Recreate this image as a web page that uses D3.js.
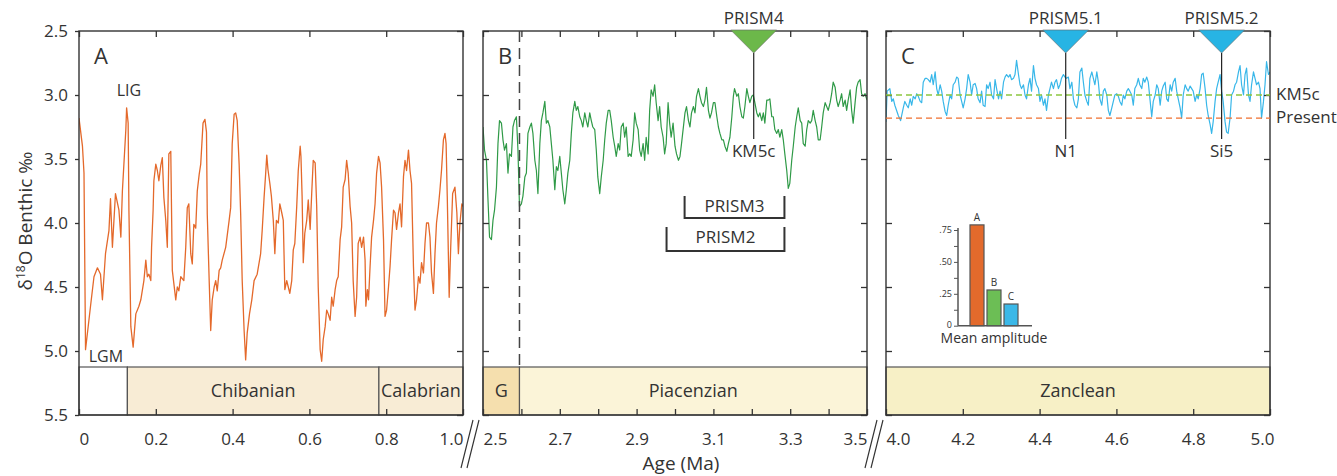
<!DOCTYPE html>
<html>
<head>
<meta charset="utf-8">
<script src="https://cdn.jsdelivr.net/npm/d3@7"></script>
<style>
  body { margin: 0; background: #fff; }
  text { font-family: "Open Sans", sans-serif; fill: #333; }
</style>
</head>
<body>
<div id="chart"></div>
<script>
// ---- data: [age (Ma), d18O benthic (permil)] ----
const seriesA = [
  [0.000,3.18],[0.009,3.40],[0.013,3.61],[0.017,4.99],[0.030,4.65],[0.039,4.42],[0.048,4.35],[0.056,4.40],[0.061,4.60],[0.065,4.42],
  [0.069,4.24],[0.078,4.06],[0.082,3.81],[0.087,4.19],[0.095,3.77],[0.104,3.90],[0.109,4.11],[0.113,3.75],[0.122,3.27],[0.124,3.10],
  [0.128,3.22],[0.130,3.90],[0.135,4.81],[0.141,4.97],[0.148,4.71],[0.156,4.65],[0.161,4.60],[0.169,4.45],[0.174,4.29],[0.178,4.42],
  [0.182,4.40],[0.187,4.45],[0.189,4.19],[0.193,3.90],[0.195,3.67],[0.200,3.54],[0.204,3.59],[0.208,3.67],[0.213,3.55],[0.217,3.49],
  [0.221,3.80],[0.226,3.98],[0.230,4.19],[0.234,3.46],[0.239,3.44],[0.243,4.37],[0.252,4.60],[0.256,4.50],[0.260,4.53],[0.265,4.42],
  [0.273,4.45],[0.278,4.19],[0.282,3.88],[0.286,3.85],[0.291,4.24],[0.295,4.32],[0.299,4.01],[0.304,4.04],[0.308,3.75],[0.313,3.62],
  [0.317,3.54],[0.323,3.22],[0.328,3.19],[0.332,3.29],[0.334,3.93],[0.339,4.45],[0.343,4.84],[0.347,4.60],[0.352,4.50],[0.356,4.45],
  [0.360,4.53],[0.365,4.37],[0.369,4.35],[0.373,4.29],[0.382,4.19],[0.391,3.98],[0.395,3.88],[0.399,3.38],[0.404,3.15],[0.408,3.14],
  [0.412,3.20],[0.417,3.54],[0.421,3.93],[0.425,4.45],[0.430,4.84],[0.434,5.07],[0.438,4.86],[0.444,4.71],[0.450,4.60],[0.456,4.45],
  [0.464,4.40],[0.473,4.24],[0.477,4.06],[0.482,3.80],[0.486,3.62],[0.489,3.47],[0.492,3.58],[0.497,3.69],[0.501,3.79],[0.506,3.98],
  [0.510,4.24],[0.514,3.98],[0.519,4.00],[0.523,3.85],[0.528,3.92],[0.532,3.98],[0.536,4.52],[0.541,4.45],[0.545,4.50],[0.549,4.55],
  [0.554,4.45],[0.558,4.21],[0.562,4.16],[0.567,3.87],[0.571,3.59],[0.576,3.40],[0.578,3.48],[0.581,3.79],[0.584,4.31],[0.588,4.08],
  [0.593,3.98],[0.597,3.82],[0.602,4.05],[0.606,3.77],[0.610,3.51],[0.615,3.53],[0.619,3.87],[0.623,4.50],[0.628,4.99],[0.632,5.08],
  [0.636,4.91],[0.641,4.81],[0.645,4.68],[0.649,4.71],[0.654,4.76],[0.658,4.58],[0.662,4.65],[0.667,4.52],[0.671,4.45],[0.675,4.42],
  [0.680,4.13],[0.684,4.03],[0.688,3.72],[0.693,3.66],[0.697,3.51],[0.701,3.61],[0.706,3.87],[0.710,4.00],[0.714,4.45],[0.719,4.73],
  [0.723,4.58],[0.727,4.16],[0.732,4.11],[0.736,4.19],[0.741,4.11],[0.745,4.29],[0.747,4.65],[0.751,4.52],[0.754,4.60],[0.758,4.34],
  [0.762,4.11],[0.767,3.98],[0.771,3.85],[0.775,3.61],[0.780,3.48],[0.784,3.53],[0.788,3.72],[0.793,4.13],[0.797,4.73],[0.801,4.68],
  [0.806,4.50],[0.810,4.34],[0.814,4.13],[0.819,3.90],[0.823,3.92],[0.827,4.05],[0.832,3.92],[0.836,3.85],[0.840,4.03],[0.845,3.64],
  [0.849,3.51],[0.853,3.59],[0.858,3.43],[0.862,3.59],[0.866,3.69],[0.871,4.34],[0.875,4.68],[0.879,4.60],[0.884,4.42],[0.888,4.47],
  [0.892,4.31],[0.897,4.39],[0.901,4.16],[0.905,4.00],[0.910,4.00],[0.914,4.11],[0.918,4.39],[0.923,4.55],[0.927,4.24],[0.931,4.00],
  [0.936,3.87],[0.940,3.74],[0.944,3.59],[0.949,3.35],[0.953,3.30],[0.956,3.38],[0.959,3.79],[0.964,4.58],[0.968,4.19],[0.973,3.77],
  [0.979,3.72],[0.984,3.92],[0.988,4.24],[0.992,4.00],[0.997,3.85],[1.000,3.87]
];

const seriesB = [
  [2.500,3.25],[2.504,3.43],[2.509,3.51],[2.513,3.82],[2.517,4.11],[2.522,4.13],[2.526,3.98],[2.530,3.90],[2.535,3.72],[2.539,3.38],
  [2.543,3.20],[2.548,3.22],[2.552,3.35],[2.556,3.43],[2.561,3.38],[2.565,3.61],[2.569,3.46],[2.574,3.48],[2.578,3.25],[2.582,3.20],
  [2.587,3.17],[2.591,3.43],[2.595,3.87],[2.600,3.85],[2.604,3.79],[2.609,3.64],[2.613,3.61],[2.617,3.30],[2.622,3.25],[2.626,3.22],
  [2.630,3.30],[2.635,3.51],[2.639,3.59],[2.643,3.77],[2.648,3.38],[2.652,3.20],[2.656,3.14],[2.661,3.05],[2.665,3.22],[2.669,3.20],
  [2.674,3.25],[2.678,3.38],[2.682,3.51],[2.687,3.74],[2.691,3.56],[2.695,3.59],[2.700,3.48],[2.704,3.61],[2.708,3.74],[2.713,3.85],
  [2.717,3.74],[2.721,3.61],[2.726,3.51],[2.730,3.30],[2.734,3.14],[2.739,3.05],[2.743,3.12],[2.747,3.09],[2.752,3.17],[2.756,3.20],
  [2.760,3.25],[2.765,3.14],[2.769,3.20],[2.773,3.25],[2.778,3.14],[2.782,3.20],[2.786,3.25],[2.791,3.27],[2.795,3.43],[2.799,3.64],
  [2.804,3.77],[2.808,3.64],[2.813,3.51],[2.817,3.35],[2.821,3.22],[2.826,3.12],[2.830,3.12],[2.834,3.20],[2.839,3.33],[2.843,3.40],
  [2.847,3.48],[2.852,3.38],[2.856,3.43],[2.860,3.25],[2.865,3.22],[2.869,3.33],[2.873,3.25],[2.878,3.48],[2.882,3.46],[2.886,3.48],
  [2.891,3.35],[2.895,3.14],[2.899,3.22],[2.904,3.27],[2.908,3.43],[2.912,3.48],[2.917,3.38],[2.921,3.51],[2.925,3.33],[2.930,3.46],
  [2.934,3.12],[2.938,2.96],[2.943,3.01],[2.947,2.92],[2.951,3.06],[2.956,3.20],[2.960,3.09],[2.964,3.25],[2.969,3.33],[2.973,3.46],
  [2.977,3.38],[2.982,3.06],[2.986,3.22],[2.990,3.33],[2.995,3.22],[3.000,3.40],[3.004,3.46],[3.009,3.51],[3.013,3.48],[3.017,3.38],
  [3.026,3.14],[3.030,3.09],[3.035,3.20],[3.039,3.25],[3.043,3.14],[3.048,3.09],[3.052,3.14],[3.056,3.01],[3.061,2.95],[3.065,3.01],
  [3.069,3.06],[3.074,3.09],[3.078,3.04],[3.082,2.94],[3.087,3.12],[3.091,3.18],[3.095,3.14],[3.100,3.06],[3.104,3.06],[3.109,3.17],
  [3.113,3.25],[3.117,3.30],[3.122,3.35],[3.126,3.35],[3.130,3.40],[3.135,3.44],[3.139,3.38],[3.143,3.33],[3.148,3.17],[3.152,3.01],
  [3.155,2.95],[3.161,3.01],[3.165,2.99],[3.169,3.09],[3.174,3.17],[3.178,3.18],[3.182,3.09],[3.187,2.95],[3.191,3.01],[3.195,3.06],
  [3.200,3.01],[3.204,3.00],[3.208,3.06],[3.213,3.14],[3.217,3.17],[3.221,3.14],[3.226,3.20],[3.230,3.14],[3.234,3.22],[3.239,3.04],
  [3.243,3.04],[3.247,3.03],[3.252,3.17],[3.256,3.17],[3.260,3.27],[3.265,3.30],[3.269,3.27],[3.273,3.33],[3.278,3.27],[3.282,3.35],
  [3.286,3.46],[3.291,3.59],[3.295,3.73],[3.299,3.69],[3.304,3.51],[3.308,3.40],[3.313,3.25],[3.317,3.17],[3.321,3.10],[3.326,3.20],
  [3.330,3.22],[3.334,3.38],[3.339,3.40],[3.343,3.27],[3.347,3.20],[3.352,3.22],[3.356,3.20],[3.360,3.12],[3.365,3.20],[3.369,3.25],
  [3.373,3.35],[3.378,3.35],[3.382,3.25],[3.386,3.14],[3.391,3.06],[3.395,3.09],[3.399,3.12],[3.404,3.06],[3.408,2.99],[3.412,2.90],
  [3.417,2.94],[3.421,3.04],[3.425,3.09],[3.430,3.04],[3.434,2.99],[3.438,3.09],[3.443,3.04],[3.447,3.12],[3.451,3.04],[3.456,2.96],
  [3.460,3.12],[3.464,3.22],[3.469,3.06],[3.473,2.94],[3.477,2.90],[3.482,2.88],[3.486,2.99],[3.490,3.01],[3.495,2.99],[3.500,3.04]
];

const seriesC = [
  [4.000,3.21],[4.003,2.97],[4.010,2.95],[4.015,3.05],[4.019,3.03],[4.023,3.08],[4.032,3.16],[4.038,3.20],[4.045,3.10],[4.049,3.05],
  [4.054,3.08],[4.058,3.10],[4.063,3.03],[4.067,3.08],[4.071,3.01],[4.076,3.03],[4.080,2.99],[4.084,3.01],[4.089,3.05],[4.093,3.06],
  [4.097,2.90],[4.102,2.87],[4.106,2.87],[4.110,2.88],[4.115,2.90],[4.119,2.84],[4.123,2.92],[4.128,2.82],[4.132,2.95],[4.136,3.00],
  [4.141,2.92],[4.145,2.97],[4.149,3.05],[4.154,3.13],[4.158,3.16],[4.162,3.08],[4.167,3.00],[4.171,3.03],[4.175,2.92],[4.180,2.90],
  [4.184,2.86],[4.188,2.87],[4.193,3.00],[4.197,3.05],[4.201,3.10],[4.206,3.03],[4.210,2.95],[4.214,2.84],[4.219,2.90],[4.223,3.00],
  [4.227,2.92],[4.232,2.91],[4.236,2.95],[4.240,3.03],[4.245,3.06],[4.249,2.97],[4.253,3.08],[4.258,3.09],[4.262,2.92],[4.266,2.95],
  [4.271,2.90],[4.275,3.00],[4.280,3.03],[4.284,2.88],[4.288,2.95],[4.293,3.03],[4.297,2.97],[4.301,3.03],[4.306,2.90],[4.310,2.86],
  [4.314,2.84],[4.319,2.86],[4.323,2.84],[4.327,2.88],[4.332,2.87],[4.336,2.84],[4.340,2.73],[4.345,2.84],[4.349,2.92],[4.353,2.95],
  [4.358,2.92],[4.362,3.00],[4.366,3.03],[4.371,2.92],[4.375,2.87],[4.379,2.97],[4.384,2.77],[4.388,2.87],[4.392,2.92],[4.397,2.95],
  [4.401,3.05],[4.405,3.00],[4.410,3.08],[4.414,3.03],[4.418,3.12],[4.423,3.00],[4.427,2.95],[4.431,2.90],[4.436,2.95],[4.440,2.90],
  [4.444,2.88],[4.449,2.95],[4.453,2.92],[4.457,2.87],[4.462,2.84],[4.466,2.86],[4.470,2.87],[4.475,2.86],[4.479,2.95],[4.484,2.90],
  [4.488,3.03],[4.492,3.08],[4.497,3.10],[4.501,3.03],[4.505,2.82],[4.510,2.79],[4.514,2.90],[4.518,3.00],[4.523,3.05],[4.527,3.08],
  [4.531,2.87],[4.536,2.82],[4.540,2.87],[4.544,2.92],[4.549,2.82],[4.553,2.90],[4.557,3.03],[4.562,3.08],[4.566,2.97],[4.570,2.95],
  [4.575,3.00],[4.579,3.12],[4.583,3.16],[4.588,3.10],[4.592,3.05],[4.596,3.00],[4.601,2.99],[4.605,3.01],[4.609,3.05],[4.614,3.08],
  [4.618,3.00],[4.622,3.03],[4.627,2.97],[4.631,2.95],[4.635,2.97],[4.640,3.00],[4.644,3.08],[4.648,2.95],[4.653,2.92],[4.657,2.87],
  [4.661,2.92],[4.666,2.95],[4.670,2.87],[4.674,2.90],[4.679,2.86],[4.683,2.90],[4.688,3.05],[4.692,3.17],[4.696,3.05],[4.701,3.00],
  [4.705,2.92],[4.709,2.95],[4.714,3.08],[4.718,2.97],[4.722,2.93],[4.727,2.90],[4.731,3.03],[4.735,3.05],[4.740,2.92],[4.744,2.97],
  [4.748,2.90],[4.753,2.87],[4.757,2.97],[4.761,3.03],[4.766,3.10],[4.770,3.18],[4.774,3.00],[4.779,2.92],[4.783,2.95],[4.787,2.97],
  [4.792,2.93],[4.796,2.95],[4.800,2.97],[4.805,3.05],[4.809,3.00],[4.813,3.03],[4.818,2.95],[4.822,2.84],[4.826,2.83],[4.831,2.95],
  [4.835,3.08],[4.839,3.16],[4.844,3.23],[4.848,3.30],[4.852,3.21],[4.857,3.05],[4.861,2.95],[4.865,2.90],[4.870,2.84],[4.874,2.97],
  [4.878,3.05],[4.883,3.21],[4.887,3.29],[4.891,3.30],[4.896,3.18],[4.900,3.00],[4.905,2.97],[4.909,2.92],[4.913,2.90],[4.918,2.82],
  [4.922,2.77],[4.926,2.92],[4.931,3.00],[4.935,2.84],[4.939,2.79],[4.944,3.00],[4.948,3.05],[4.952,2.92],[4.957,2.82],[4.961,2.87],
  [4.965,2.92],[4.970,2.90],[4.974,2.95],[4.978,3.18],[4.983,3.05],[4.987,2.92],[4.991,2.74],[4.996,2.84],[5.000,2.82]
];

// geological stages [name, from, to] (Ma)
const stagesA = [['', 0, 0.126], ['Chibanian', 0.126, 0.781], ['Calabrian', 0.781, 1.0]];
const stagesB = [['G', 2.5, 2.595], ['Piacenzian', 2.595, 3.5]];
const stagesC = [['Zanclean', 4.0, 5.0]];

// tick values
const yTicks = [2.5, 3.0, 3.5, 4.0, 4.5, 5.0, 5.5];
const ticksA = [0, 0.2, 0.4, 0.6, 0.8, 1.0];
const ticksB = [2.5, 2.6, 2.7, 2.8, 2.9, 3.0, 3.1, 3.2, 3.3, 3.4, 3.5];
const labelsB = [2.5, 2.7, 2.9, 3.1, 3.3, 3.5];
const ticksC = [4.0, 4.2, 4.4, 4.6, 4.8, 5.0];

// PRISM time slabs and reference sites
const markerNames = ['PRISM4', 'PRISM5.1', 'PRISM5.2'];
const markerAges = [3.205, 4.468, 4.874];
const markerSites = ['KM5c', 'N1', 'Si5'];

const intervalNames = ['PRISM3', 'PRISM2'];
const intervalFrom = [3.025, 2.978];
const intervalTo = [3.285, 3.285];

// reference levels in panel C
const refNames = ['KM5c', 'Present'];
const refValues = [3.0, 3.18];

// inset: mean amplitude
const ampNames = ['A', 'B', 'C'];
const ampValues = [0.79, 0.28, 0.17];
const ampTicks = [0, 0.125, 0.25, 0.375, 0.5, 0.625, 0.75];

// ---- styles ----
const stageFill = { '': '#ffffff', Chibanian: '#f8ecd5', Calabrian: '#f8ecd5', G: '#f5dfae', Piacenzian: '#fbf4d8', Zanclean: '#f7f0c6' };
const colorA = '#e4692b', colorB = '#2f9a47', colorC = '#38b7e9';
const ink = '#333';

const W = 1337, H = 476;
const svg = d3.select('#chart').append('svg').attr('width', W).attr('height', H);

const y = d3.scaleLinear().domain([2.5, 5.5]).range([31, 415]);
const bandTop = y(5.125);
const PW = 384;

const panels = [
  { key: 'A', domain: [0, 1], left: 79, stages: stagesA, series: seriesA, color: colorA, lw: 1.3,
    inner: ticksA, labels: ticksA, fmt: d => d === 0 ? '0' : d.toFixed(1) },
  { key: 'B', domain: [2.5, 3.5], left: 483, stages: stagesB, series: seriesB, color: colorB, lw: 1.2,
    inner: ticksB, labels: labelsB, fmt: d => d.toFixed(1) },
  { key: 'C', domain: [4, 5], left: 886, stages: stagesC, series: seriesC, color: colorC, lw: 1.2,
    inner: ticksC, labels: ticksC, fmt: d => d.toFixed(1) }
];

const xs = {};

function styleAxis(g) {
  g.attr('font-family', '"Open Sans", sans-serif').attr('font-size', 17).attr('color', ink);
  g.select('.domain').remove();
  g.selectAll('.tick line').attr('stroke-width', 1.3);
}

panels.forEach(p => {
  const x = d3.scaleLinear().domain(p.domain).range([p.left, p.left + PW]);
  xs[p.key] = x;
  const g = svg.append('g');

  // stage band
  g.selectAll('rect.stage').data(p.stages).join('rect')
    .attr('class', 'stage')
    .attr('x', d => x(d[1])).attr('y', bandTop)
    .attr('width', d => x(d[2]) - x(d[1])).attr('height', y(5.5) - bandTop)
    .attr('fill', d => stageFill[d[0]])
    .attr('stroke', '#555').attr('stroke-width', 1.2);
  g.selectAll('text.stage').data(p.stages.filter(d => d[0])).join('text')
    .attr('class', 'stage')
    .attr('x', d => (x(d[1]) + x(d[2])) / 2).attr('y', 397)
    .attr('text-anchor', 'middle').style('font-size', '18px')
    .text(d => d[0]);

  // curve
  svg.append('clipPath').attr('id', 'clip' + p.key)
    .append('rect').attr('x', p.left).attr('y', 31).attr('width', PW).attr('height', bandTop - 31);
  g.append('path').datum(p.series)
    .attr('clip-path', `url(#clip${p.key})`)
    .attr('fill', 'none').attr('stroke', p.color).attr('stroke-width', p.lw)
    .attr('stroke-linejoin', 'round')
    .attr('d', d3.line().x(d => x(d[0])).y(d => y(d[1])));

  // frame
  g.append('rect').attr('x', p.left).attr('y', 31).attr('width', PW).attr('height', 384)
    .attr('fill', 'none').attr('stroke', ink).attr('stroke-width', 1.4);

  // inward ticks top / bottom
  g.append('g').attr('transform', 'translate(0,31)')
    .call(d3.axisBottom(x).tickValues(p.inner).tickSize(6).tickFormat('')).call(styleAxis);
  g.append('g').attr('transform', 'translate(0,415)')
    .call(d3.axisTop(x).tickValues(p.inner).tickSize(6).tickFormat('')).call(styleAxis);

  // bottom labels
  const lab = g.append('g').attr('transform', 'translate(0,415)')
    .call(d3.axisBottom(x).tickValues(p.labels).tickSize(0).tickPadding(18).tickFormat(p.fmt))
    .call(styleAxis);
  const n = p.labels.length;
  lab.selectAll('.tick text')
    .attr('text-anchor', (d, i) => i === 0 ? 'start' : (i === n - 1 ? 'end' : 'middle'))
    .attr('dx', (d, i) => (p.key === 'C' && i === n - 1) ? 4 : 0);

  // side ticks
  g.append('g').attr('transform', `translate(${p.left + PW},0)`)
    .call(d3.axisLeft(y).tickValues(yTicks).tickSize(6).tickFormat('')).call(styleAxis);
  if (p.key === 'A') {
    g.append('g').attr('transform', `translate(${p.left},0)`)
      .call(d3.axisLeft(y).tickValues(yTicks).tickSize(4).tickPadding(7).tickFormat(d3.format('.1f')))
      .call(styleAxis);
  } else {
    g.append('g').attr('transform', `translate(${p.left},0)`)
      .call(d3.axisRight(y).tickValues(yTicks).tickSize(6).tickFormat('')).call(styleAxis);
  }

  // panel letter
  g.append('text').attr('x', p.left + 15).attr('y', 64).style('font-size', '22px').text(p.key);

  // axis break marks
  if (p.key !== 'C') {
    const bx = p.left + PW - 2;
    [0, 6].forEach(o => {
      g.append('line').attr('x1', bx + o).attr('y1', 468).attr('x2', bx + o + 12).attr('y2', 420)
        .attr('stroke', ink).attr('stroke-width', 1.2);
    });
  }
});

// Gelasian / Piacenzian boundary dashed line
svg.append('line')
  .attr('x1', xs.B(stagesB[1][1])).attr('x2', xs.B(stagesB[1][1]))
  .attr('y1', 31).attr('y2', bandTop)
  .attr('stroke', '#444').attr('stroke-width', 1.5).attr('stroke-dasharray', '11,6');

// LIG / LGM
svg.append('text').attr('x', xs.A(0.13)).attr('y', y(3.0) + 1).attr('text-anchor', 'middle')
  .style('font-size', '16px').text('LIG');
svg.append('text').attr('x', xs.A(0.07)).attr('y', y(5.0) + 11).attr('text-anchor', 'middle')
  .style('font-size', '16px').text('LGM');

// reference levels, panel C
const refColor = ['#8cc63f', '#f07030'];
refNames.forEach((name, i) => {
  svg.append('line')
    .attr('x1', xs.C(4)).attr('x2', xs.C(5))
    .attr('y1', y(refValues[i])).attr('y2', y(refValues[i]))
    .attr('stroke', refColor[i]).attr('stroke-width', 1.3).attr('stroke-dasharray', '6,4');
  svg.append('text').attr('x', xs.C(5) + 6).attr('y', y(refValues[i])).attr('dy', '0.3em')
    .style('font-size', '17px').text(name);
});

// PRISM markers
markerNames.forEach((name, i) => {
  const age = markerAges[i];
  const x = age < 4 ? xs.B : xs.C;
  const fill = age < 4 ? '#6cb84a' : '#27b4e4';
  const cx = x(age);
  svg.append('path')
    .attr('d', `M${cx - 23},30 L${cx + 23},30 L${cx},53 Z`)
    .attr('fill', fill).attr('stroke', '#666').attr('stroke-width', 0.6);
  svg.append('line').attr('x1', cx).attr('x2', cx).attr('y1', 53).attr('y2', 139)
    .attr('stroke', '#222').attr('stroke-width', 1.2);
  svg.append('text').attr('x', cx).attr('y', 24).attr('text-anchor', 'middle')
    .style('font-size', '17px').text(name);
  svg.append('text').attr('x', cx).attr('y', 157).attr('text-anchor', 'middle')
    .style('font-size', '17px').text(markerSites[i]);
});

// PRISM3 / PRISM2 intervals
const bracketRows = [{ top: 196, bottom: 218, text: 212 }, { top: 227, bottom: 251, text: 243 }];
intervalNames.forEach((name, i) => {
  const r = bracketRows[i];
  const x0 = xs.B(intervalFrom[i]), x1 = xs.B(intervalTo[i]);
  svg.append('path')
    .attr('d', `M${x0},${r.top} L${x0},${r.bottom} L${x1},${r.bottom} L${x1},${r.top}`)
    .attr('fill', 'none').attr('stroke', ink).attr('stroke-width', 2);
  svg.append('text').attr('x', (x0 + x1) / 2).attr('y', r.text).attr('text-anchor', 'middle')
    .style('font-size', '17px').text(name);
});

// inset bar chart: mean amplitude
const ampY = d3.scaleLinear().domain([0, 0.75]).range([325.7, 230]);
const ampX = d3.scaleBand().domain(ampNames).range([970, 1018]).paddingInner(3 / 17);
const ampColor = { A: '#e36a2c', B: '#6cbe55', C: '#3bb8e8' };
const inset = svg.append('g');
inset.append('g').attr('transform', 'translate(958,0)')
  .call(d3.axisLeft(ampY).tickValues(ampTicks).tickSize(4).tickSizeOuter(0).tickPadding(2)
    .tickFormat(d => d === 0 ? '0' : (d * 4 % 1 === 0 ? d3.format('.2f')(d).replace('0.', '.') : '')))
  .call(g => {
    g.attr('font-family', '"Open Sans", sans-serif').attr('font-size', 9).attr('color', '#555');
    g.select('.domain').attr('stroke-width', 1.5).attr('d', 'M0,' + ampY(0) + 'V' + (ampY(0.75) - 2));
    g.selectAll('.tick text').attr('dy', (d) => d === 0 ? '0.15em' : '0.32em');
  });
inset.append('line').attr('x1', 958).attr('x2', 1032).attr('y1', ampY(0)).attr('y2', ampY(0))
  .attr('stroke', '#555').attr('stroke-width', 1.5);
inset.selectAll('rect').data(ampNames).join('rect')
  .attr('x', d => ampX(d)).attr('width', ampX.bandwidth())
  .attr('y', (d, i) => ampY(ampValues[i])).attr('height', (d, i) => ampY(0) - ampY(ampValues[i]))
  .attr('fill', d => ampColor[d]).attr('stroke', '#555').attr('stroke-width', 1.2);
inset.selectAll('text.bar').data(ampNames).join('text')
  .attr('class', 'bar')
  .attr('x', d => ampX(d) + ampX.bandwidth() / 2).attr('y', (d, i) => ampY(ampValues[i]) - 4)
  .attr('text-anchor', 'middle').style('font-size', '10px').text(d => d);
inset.append('text').attr('x', 994).attr('y', 343).attr('text-anchor', 'middle')
  .style('font-size', '14px').text('Mean amplitude');

// axis titles
svg.append('text').attr('x', 681).attr('y', 470).attr('text-anchor', 'middle')
  .style('font-size', '19px').text('Age (Ma)');
const yl = svg.append('text').attr('transform', 'translate(32,221) rotate(-90)')
  .attr('text-anchor', 'middle').style('font-size', '19px');
yl.append('tspan').text('δ');
yl.append('tspan').attr('dy', -7).style('font-size', '12px').text('18');
yl.append('tspan').attr('dy', 7).text('O Benthic ‰');
</script>
</body>
</html>
